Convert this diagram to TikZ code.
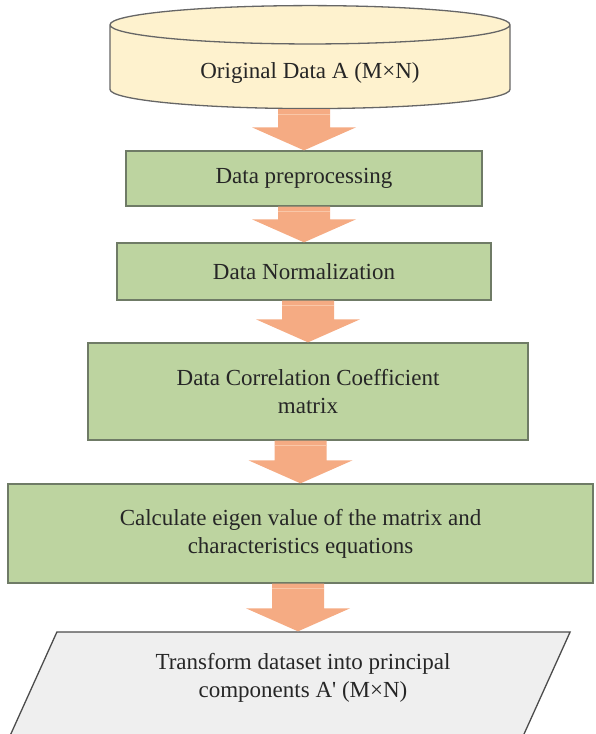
\documentclass[tikz,border=0pt]{standalone}
\usepackage{fontspec}
\setmainfont{Liberation Serif}
\usetikzlibrary{positioning,shapes.geometric,calc}

\definecolor{dbyellow}{HTML}{FEF2CE}
\definecolor{stepgreen}{HTML}{BDD4A0}
\definecolor{stepedge}{HTML}{6F7B66}
\definecolor{arrowfill}{HTML}{F5AB83}
\definecolor{arrowline}{HTML}{F9C7A8}
\definecolor{iogray}{HTML}{EFEFEF}

% fat block arrow from the bottom of #2 to the top of #3
\newcommand{\fatarrow}[3][0pt]{%
  \fill[fat] ([xshift=#1]#3.north) -- ++(-52pt,23pt) -- ++(26pt,0) coordinate (l)
    -- (l |- #2.south) -- ++(52pt,0) coordinate (r) -- (r |- l) -- ++(26pt,0) -- cycle;
  \draw[fatline] ($(l |- #2.south)+(0,-5pt)$) -- ++(52pt,0);
}

\begin{document}
\begin{tikzpicture}[
    x=1pt, y=-1pt,
    font=\fontsize{23}{28}\selectfont,
    text=black!85,
    line width=1.3pt,
    database/.style={cylinder, shape border rotate=90, aspect=0.175, draw=black!60, fill=dbyellow,
      minimum width=400pt, minimum height=103pt, inner sep=0pt, text height=27pt, text depth=5pt},
    stepbox/.style={draw=stepedge, fill=stepgreen, align=center, inner sep=0pt},
    iobox/.style={trapezium, trapezium left angle=65.7, trapezium right angle=114.3,
      trapezium stretches body, draw=black!70, fill=iogray,
      minimum width=571pt, inner sep=3pt, text height=100pt, text depth=22pt},
    fat/.style={fill=arrowfill},
    fatline/.style={draw=arrowline, line width=1pt}
  ]
  \useasboundingbox (0,0) rectangle (595,734);
  \clip (0,0) rectangle (595,734);

  \node[database] (orig) at (310,67) {Original Data A (M×N)};
  \node[stepbox, minimum width=356pt, minimum height=55pt] (prep) at (304,178.5) {Data preprocessing};
  \node[stepbox, minimum width=374pt, minimum height=57pt] (norm) at (304,271.5) {Data Normalization};
  \node[stepbox, minimum width=440pt, minimum height=97pt] (corr) at (308,391.5) {Data Correlation Coefficient\\matrix};
  \node[stepbox, minimum width=585pt, minimum height=99pt] (eig) at (300.5,533.5) {Calculate eigen value of the matrix and\\characteristics equations};
  \node[iobox] (outshape) at (284.6,696) {\strut};
  \node[align=center] (out) at (303,678) {Transform dataset into principal\\components A\textquotesingle{} (M×N)};

  \fatarrow{orig}{prep}
  \fatarrow{prep}{norm}
  \fatarrow{norm}{corr}
  \fatarrow{corr}{eig}
  \fatarrow[13.4pt]{eig}{outshape}
\end{tikzpicture}
\end{document}
